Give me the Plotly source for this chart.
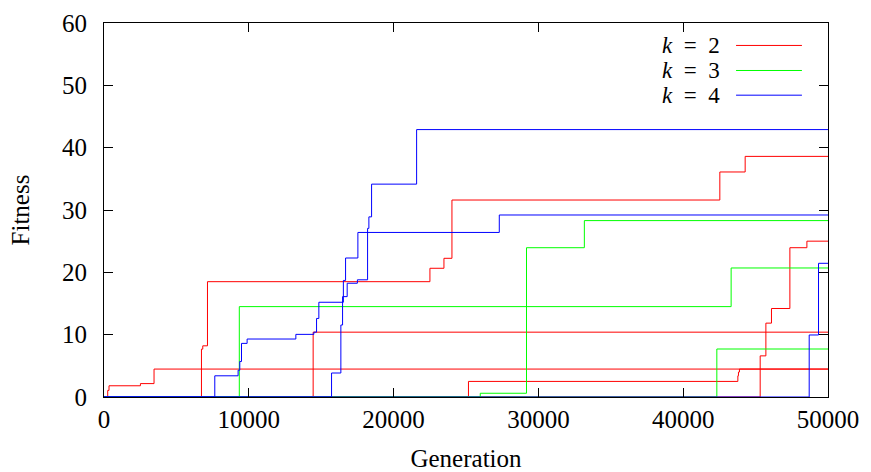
import plotly.graph_objects as go

# ---- data ----
k2_run1_x = [0, 256, 346, 2516, 3456, 50000]
k2_run1_y = [0, 1.06, 1.8, 2.15, 4.48, 4.48]
k2_run2_x = [0, 6731, 6821, 7146, 22509, 23477, 24030, 42530, 44279, 50000]
k2_run2_y = [0, 7.68, 8.21, 18.5, 20.65, 22.25, 31.6, 36.1, 38.6, 38.6]
k2_run3_x = [0, 14444, 50000]
k2_run3_y = [0, 10.4, 10.4]
k2_run4_x = [0, 25170, 43774, 43816, 43885, 50000]
k2_run4_y = [0, 2.5, 3.4, 4.0, 4.48, 4.48]
k2_run5_x = [0, 45316, 45710, 46096, 47368, 48543, 50000]
k2_run5_y = [0, 6.6, 11.85, 14.2, 23.95, 25.0, 25.0]

k3_run1_x = [0, 9344, 43311, 50000]
k3_run1_y = [0, 14.5, 20.7, 20.7]
k3_run2_x = [0, 25985, 29178, 33173, 50000]
k3_run2_y = [0, 0.6, 23.95, 28.3, 28.3]
k3_run3_x = [0, 42323, 50000]
k3_run3_y = [0, 7.7, 7.7]

k4_run1_x = [0, 7651, 9261, 9378, 9496, 9883, 13249, 14493, 14679, 14838,
             16531, 16683, 17533, 27299, 50000]
k4_run1_y = [0, 3.4, 4.3, 5.7, 8.6, 9.3, 10.05, 10.4, 12.6, 15.2,
             18.7, 22.3, 26.4, 29.2, 29.2]
k4_run2_x = [0, 15715, 16358, 16476, 16794, 17499, 18204, 18293, 18480, 21590, 50000]
k4_run2_y = [0, 3.85, 11.55, 16.1, 18.25, 18.8, 27.05, 28.9, 34.15, 42.9, 42.9]
k4_run3_x = [0, 48702, 49345, 50000]
k4_run3_y = [0, 9.95, 21.45, 21.45]

series_labels = ["<i>k</i>\u2002=\u20022", "<i>k</i>\u2002=\u20023", "<i>k</i>\u2002=\u20024"]
x_ticks = [0, 10000, 20000, 30000, 40000, 50000]
x_ticktext = ["0", "10000", "20000", "30000", "40000", "50000"]
y_ticks = [0, 10, 20, 30, 40, 50, 60]
y_ticktext = ["0", "10", "20", "30", "40", "50", "60"]

groups = [
    ("#ff0000", [(k2_run1_x, k2_run1_y), (k2_run2_x, k2_run2_y), (k2_run3_x, k2_run3_y),
                 (k2_run4_x, k2_run4_y), (k2_run5_x, k2_run5_y)]),
    ("#00ff00", [(k3_run1_x, k3_run1_y), (k3_run2_x, k3_run2_y), (k3_run3_x, k3_run3_y)]),
    ("#0000ff", [(k4_run1_x, k4_run1_y), (k4_run2_x, k4_run2_y), (k4_run3_x, k4_run3_y)]),
]

FONT = "Liberation Serif"
fig = go.Figure()
for color, runs in groups:
    for xs, ys in runs:
        fig.add_trace(go.Scatter(x=xs, y=ys, mode="lines", line=dict(color=color, width=1, shape="hv"),
                                 showlegend=False, hoverinfo="skip"))

# legend (text on the left, sample line on the right)
leg_y = [0.940, 0.873, 0.807]
for (color, _), label, yy in zip(groups, series_labels, leg_y):
    fig.add_annotation(x=0.853, y=yy, xref="paper", yref="paper", text=label, showarrow=False,
                       xanchor="right", yanchor="middle", font=dict(family=FONT, size=23, color="black"))
    fig.add_shape(type="line", xref="paper", yref="paper", x0=0.873, x1=0.964, y0=yy, y1=yy,
                  line=dict(color=color, width=1))

axis_common = dict(showline=True, linecolor="black", linewidth=1, mirror="ticks", ticks="inside",
                   ticklen=9, tickcolor="black", tickwidth=1, showgrid=False, zeroline=False,
                   automargin=False, tickfont=dict(family=FONT, size=25, color="black"))
fig.update_xaxes(range=[0, 50000], tickvals=x_ticks, ticktext=x_ticktext, ticklabelstandoff=0,
                 title=dict(text="Generation", font=dict(family=FONT, size=25, color="black"), standoff=18),
                 **axis_common)
fig.update_yaxes(range=[0, 60], tickvals=y_ticks, ticktext=y_ticktext, ticklabelstandoff=11,
                 title=dict(text="Fitness", font=dict(family=FONT, size=25, color="black"), standoff=25),
                 **axis_common)
fig.update_layout(width=871, height=472, margin=dict(l=104, r=43, t=23, b=75),
                  paper_bgcolor="white", plot_bgcolor="white", showlegend=False)
fig.write_html("out.html")
